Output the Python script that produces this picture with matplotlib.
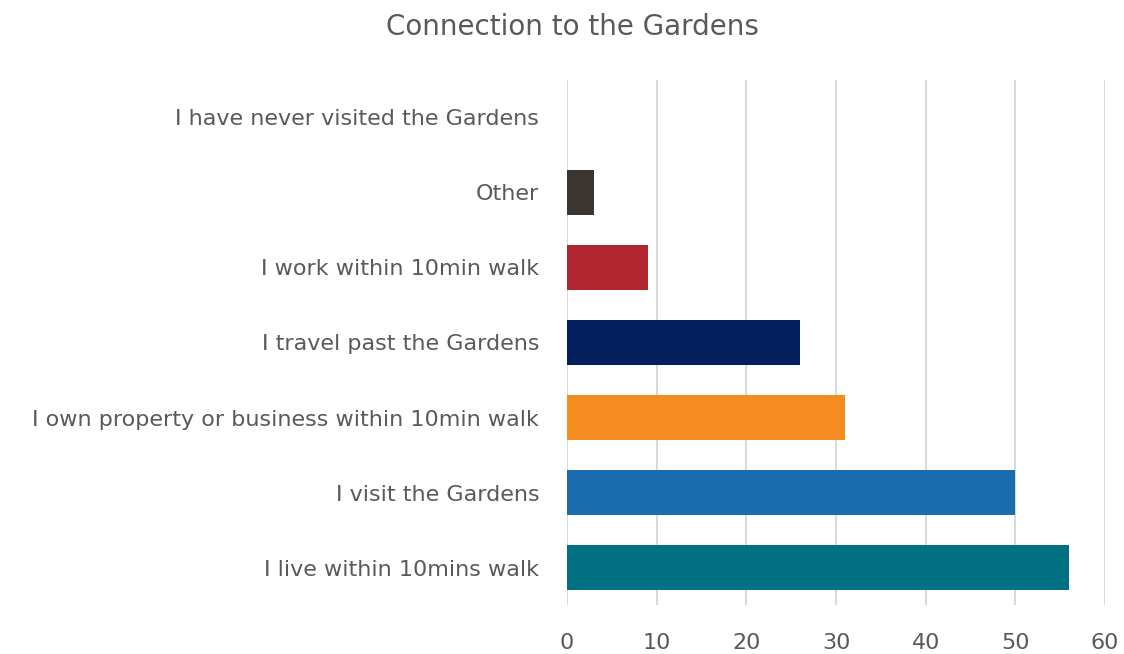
import matplotlib.pyplot as plt

plt.rcParams['font.family'] = ['DejaVu Sans']

# Connection to the Gardens survey responses
categories = ["I live within 10mins walk", "I visit the Gardens",
              "I own property or business within 10min walk", "I travel past the Gardens",
              "I work within 10min walk", "Other", "I have never visited the Gardens"]
values = [56, 50, 31, 26, 9, 3, 0]
colors = ['#007082', '#1b6db0', '#f58c20', '#03205c', '#b0252f', '#3a3530', '#7f7f7f']
xticks = [0, 10, 20, 30, 40, 50, 60]

text_color = '#595959'

fig = plt.figure(figsize=(11.24, 6.54), dpi=100)
ax = fig.add_axes([0.5044, 0.0749, 0.4787, 0.8028])

ax.barh(range(len(categories)), values, height=0.6, color=colors, zorder=3)

ax.set_xlim(0, 60)
ax.set_ylim(-0.5, len(categories) - 0.5)
ax.set_xticks(xticks)
ax.set_xticklabels([str(t) for t in xticks])
ax.set_yticks(range(len(categories)))
ax.set_yticklabels(categories)

ax.grid(axis='x', color='#d9d9d9', linewidth=1.5, zorder=0)
for s in ax.spines.values():
    s.set_visible(False)
ax.tick_params(axis='both', length=0, labelsize=16, colors=text_color)
ax.tick_params(axis='x', pad=20)
ax.tick_params(axis='y', pad=20)

fig.text(0.509, 0.958, 'Connection to the Gardens', ha='center', va='center',
         fontsize=20, color=text_color)

plt.savefig('out.png', dpi=100)
